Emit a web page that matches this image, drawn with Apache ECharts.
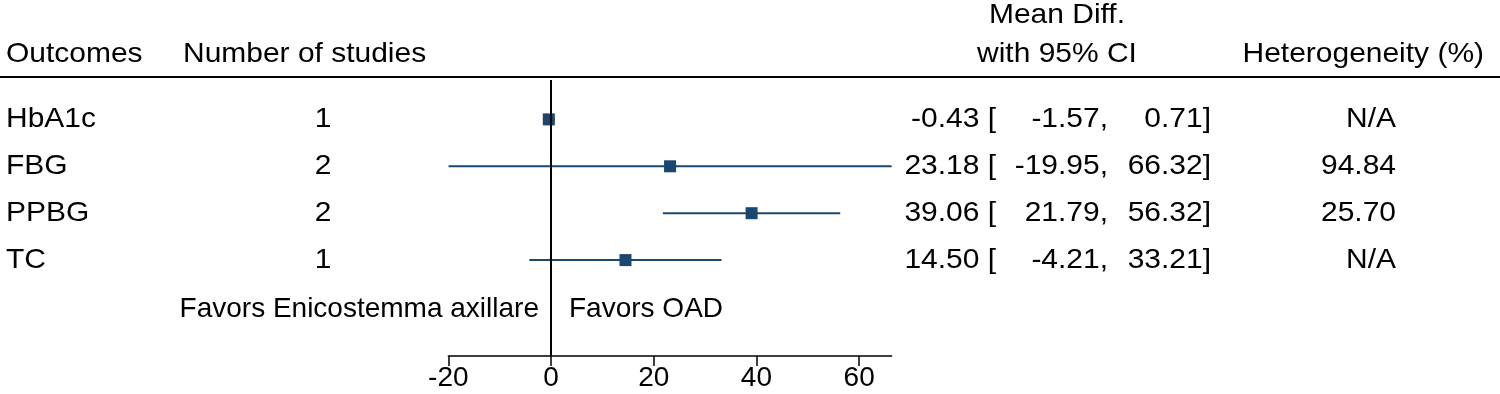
<!DOCTYPE html>
<html>
<head>
<meta charset="utf-8">
<script src="https://cdn.jsdelivr.net/npm/echarts@6/dist/echarts.min.js"></script>
<style>
  html, body { margin: 0; padding: 0; background: #ffffff; }
  #chart { width: 1500px; height: 394px; }
</style>
</head>
<body>
<div id="chart"></div>
<script>
// forest plot data
var outcomes = ['HbA1c', 'FBG', 'PPBG', 'TC']
var studies = ['1', '2', '2', '1']
var meanDiff = [-0.43, 23.18, 39.06, 14.50]
var ciLow = [-1.57, -19.95, 21.79, -4.21]
var ciHigh = [0.71, 66.32, 56.32, 33.21]
var hetero = ['N/A', '94.84', '25.70', 'N/A']
var xTicks = [-20, 0, 20, 40, 60]

var FONT = '"Liberation Sans", Arial, Helvetica, sans-serif'
var FS = 28
var SX = 1.07 // the stata export is a bit stretched sideways
var NAVY = '#1a476f'

var rowY = outcomes.map(function(_, i) { return i + 0.84 })

function fmt(v) { return v.toFixed(2) }

// one text column on the full-width grid
function textCol(x, texts, align) {
  return {
    type: 'custom',
    xAxisIndex: 1,
    yAxisIndex: 1,
    silent: true,
    data: texts.map(function(t, i) { return [x, rowY[i], i] }),
    renderItem: function(params, api) {
      var p = api.coord([api.value(0), api.value(1)])
      return {
        type: 'text',
        x: p[0],
        y: p[1],
        scaleX: SX,
        style: {
          text: texts[api.value(2)],
          font: FS + 'px ' + FONT,
          fill: '#000',
          align: align,
          verticalAlign: 'middle'
        }
      }
    }
  }
}

function hdr(text, x, y, align, sx) {
  return {
    type: 'text', x: x, y: y, scaleX: sx || SX,
    style: { text: text, font: FS + 'px ' + FONT, fill: '#000', align: align, verticalAlign: 'middle' }
  }
}

var chart = echarts.init(document.getElementById('chart'))

var option = {
  backgroundColor: '#ffffff',
  animation: false,
  grid: [
    { left: 448.3, right: 608.4, top: 80, bottom: 38 },
    { left: 0, right: 0, top: 80, bottom: 38 }
  ],
  xAxis: [
    {
      type: 'value',
      gridIndex: 0,
      min: -20,
      max: 66.32,
      interval: 20,
      splitLine: { show: false },
      axisLine: { show: true, onZero: false, lineStyle: { color: '#000', width: 1.5 } },
      axisTick: { show: true, length: 10, customValues: xTicks, lineStyle: { color: '#000', width: 1.5 } },
      axisLabel: { customValues: xTicks, margin: 8, color: '#000', fontFamily: FONT, fontSize: FS }
    },
    { type: 'value', gridIndex: 1, min: 0, max: 1500, show: false }
  ],
  yAxis: [
    { type: 'value', gridIndex: 0, min: 0, max: 5.885, inverse: true, show: false },
    { type: 'value', gridIndex: 1, min: 0, max: 5.885, inverse: true, show: false }
  ],
  graphic: [
    hdr('Outcomes', 6, 54, 'left'),
    hdr('Number of studies', 183, 54, 'left'),
    hdr('Mean Diff.', 1057, 15, 'center'),
    hdr('with 95% CI', 1057, 54, 'center'),
    hdr('Heterogeneity (%)', 1484, 54, 'right'),
    { type: 'line', shape: { x1: 0, y1: 77, x2: 1500, y2: 77 }, style: { stroke: '#000', lineWidth: 2 } },
    hdr('Favors Enicostemma axillare', 539, 309, 'right', 1),
    hdr('Favors OAD', 569, 309, 'left', 1)
  ],
  series: [
    {
      type: 'custom',
      xAxisIndex: 0,
      yAxisIndex: 0,
      silent: true,
      data: outcomes.map(function(_, i) { return [ciLow[i], ciHigh[i], rowY[i]] }),
      encode: { x: [0, 1], y: 2 },
      renderItem: function(params, api) {
        var a = api.coord([api.value(0), api.value(2)])
        var b = api.coord([api.value(1), api.value(2)])
        return {
          type: 'line',
          shape: { x1: a[0], y1: a[1], x2: b[0], y2: b[1] },
          style: { stroke: NAVY, lineWidth: 2 }
        }
      },
      markLine: {
        silent: true,
        symbol: 'none',
        label: { show: false },
        lineStyle: { color: '#000', width: 2, type: 'solid' },
        data: [{ xAxis: 0 }]
      },
      z: 2
    },
    {
      type: 'scatter',
      xAxisIndex: 0,
      yAxisIndex: 0,
      symbol: 'rect',
      symbolSize: 12,
      itemStyle: { color: NAVY, opacity: 1 },
      data: outcomes.map(function(_, i) { return [meanDiff[i], rowY[i]] }),
      z: 4
    },
    textCol(6, outcomes, 'left'),
    textCol(323, studies, 'center'),
    textCol(996, meanDiff.map(function(v) { return fmt(v) + ' [' }), 'right'),
    textCol(1108, ciLow.map(function(v) { return fmt(v) + ',' }), 'right'),
    textCol(1211, ciHigh.map(function(v) { return fmt(v) + ']' }), 'right'),
    textCol(1396, hetero, 'right')
  ]
}

chart.setOption(option)
window.addEventListener('resize', function() {
  chart.resize()
})
</script>
</body>
</html>
